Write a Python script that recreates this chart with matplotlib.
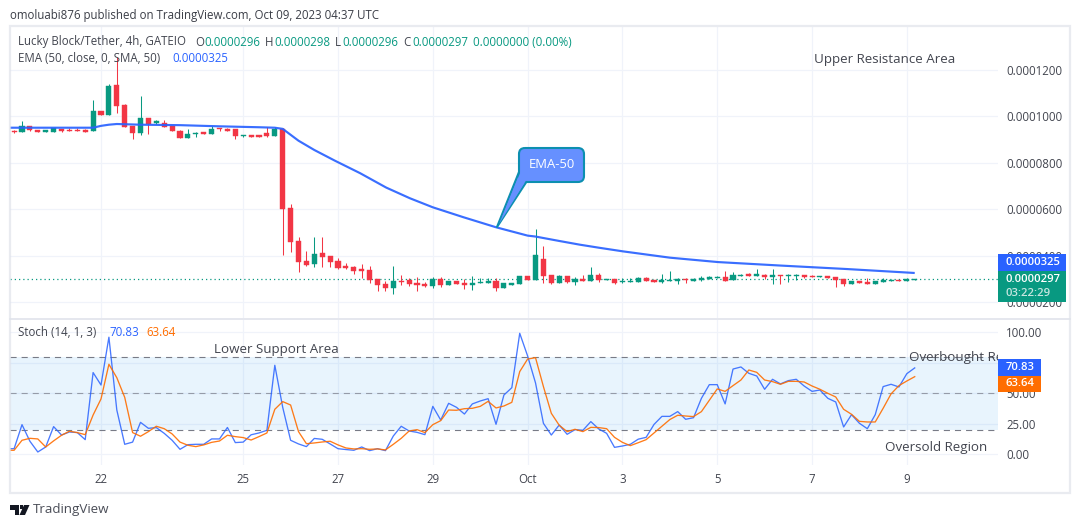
import matplotlib
matplotlib.use("Agg")
import matplotlib.pyplot as plt
from matplotlib.patches import Rectangle, Polygon, PathPatch
from matplotlib.path import Path

plt.rcParams["font.family"] = "Open Sans"

# ---------- data (prices in millionths of USDT) ----------
first_candle = -11
opens = [93.7,93.4,95.7,94.1,93.4,93.4,94.4,94.1,94.1,94.1,93.8,102.3,100.7,113.5,104.9,96,92.7,99.3,97.2,97.2,95.9,93.8,90.8,92.6,93.3,92.6,95,94.6,94.6,91.7,91.8,91.8,92.7,91.7,
94.6,60.4,46.1,37.7,36.5,41.1,39.8,37.7,35.7,35.1,34.2,33.8,29.9,27.8,26.2,29.1,29.5,28.2,27.8,26.9,29.8,27.3,28.9,28.2,27.3,28.3,28.2,28.9,26.2,27.3,27.9,31.2,29.5,38.5,31.6,28.2,31.2,28.6,
29.8,29.2,31.6,29.6,30,28.5,28.8,28.8,30.3,29.5,28.8,29.2,29,29.9,29.2,29.6,29.8,30.3,30.8,29.5,31.3,32.1,31.2,31.6,30.8,31.6,31.3,31.3,31.6,31.2,30.9,31.2,30.8,29.8,27.8,29,28.6,27.8,28.6,29,29.5,29,29.6]
highs = [94.1,98,95.8,94.2,94,94.9,94.5,95,95,94.4,107.1,102.3,114,125.7,105.2,96,108.8,99.3,98.3,98.4,96,94,94.7,93.3,93.4,95.9,95,95,94.6,91.9,91.8,91.8,95.6,95.6,
94.9,62.2,47.9,42,48,48,39.8,39,37,35.5,36.4,35.7,29.9,28.9,35.5,31.6,30.5,30.6,28.5,30.6,30.6,28.9,28.9,29.8,31.2,30.3,30.2,30.2,28,28.2,31.2,31.2,51.5,44.1,31.6,31.6,31.2,30.6,
31.6,35.1,32.6,30,30,30.5,30.5,30.8,30.8,29.5,32.1,33.4,30.3,30.3,30.5,31.2,31.2,31.2,33.4,32.9,32.1,32.5,34.2,32.1,34.2,31.6,32.1,32.1,31.6,31.6,31.2,31.2,30.8,29.8,29,29,30.3,29,30.3,29.6,29.5,30.3,29.8]
lows = [93,93.4,93.8,93.4,93.4,93.4,93.3,93.8,93.8,93.4,93.8,100.7,100.7,101.6,95.6,90.3,92,92.4,96.7,95.6,93.7,90.8,90.8,91.3,92.6,92.6,93.8,93.8,90.4,91.1,91.3,91.3,91.1,91.7,
40.3,41.7,32.9,35.5,35.2,35.1,35.2,34.2,34.2,32.1,30.5,28.2,24.7,24.6,23.4,27.2,26.9,24.7,26.6,25.9,26.6,27.3,27.9,25.6,25.2,28.3,28.2,24.7,26.2,27.3,27.9,29.5,29.5,28.3,27.8,28.2,28.2,27.3,
29.2,29.2,28.6,29.6,27.6,28,28.8,28.8,29.2,28.8,28,29.2,27.8,28.2,29.2,29.2,29.8,30.3,29,29.5,31.3,31.3,31.2,29.8,27.8,27.8,28.6,29.5,30.3,30.9,30.9,30.5,26.5,26.9,27.8,28.2,27.8,27.8,28.6,29,29,29,29.6]
closes = [93.4,95.9,94.3,93.4,94,94.9,93.7,93.8,93.8,93.4,102.3,100.7,113.1,104.5,95.6,92.8,99.3,96.7,97.9,95.6,93.7,90.8,92.4,92.8,92.6,94.4,94.4,93.8,91.7,91.8,91.3,91.3,91.6,94.6,
60.2,46,37.2,36,40.5,39.5,37.2,34.7,34.8,33.4,33.5,29.6,27.3,26,28.9,28.6,27.8,27.3,27.1,29.8,27.2,28.9,27.9,27.3,28.2,28.6,28.9,26.2,28,28.2,31.2,29.5,40.3,31.2,28.2,31.2,28.6,29.9,
29.2,31.6,29.5,30,28,29,29,30.3,29.2,28.8,29.5,29.5,29.8,29.6,29.9,30.3,30.8,30.6,29,31.6,31.6,31.3,32.1,30.8,31.6,31.3,31.6,31.6,30.8,30.9,31.2,30.5,29.5,27.8,29,28.2,27.8,29,29.5,29.6,29,29.9,29.7]
last_price = 29.7

ema_idx = [-12,-1,0,1,2,3,5,10,15,20,22,23,25,27,29.6,32.8,36.1,39.1,42,45.9,50,54,55,58,60.6,63,66.1,72,78.1,86,94.4,103]
ema_vals = [95.1,95.1,95.9,96.4,96.7,96.6,96.4,96.2,95.7,95.3,95.1,94.6,89.5,85.5,80.9,75.5,69.3,64.7,60.8,56.5,52.2,48.6,48.2,46.3,44.7,43.4,41.8,39.1,37.2,35.7,34.2,32.5]

first_stoch = -12
stoch_k = [4.6,4.6,24.3,10.7,1.9,6,22.7,15.8,18.3,17.8,12,67,56.8,96,36.3,8.2,10,26.2,21.3,21.9,17.2,11.5,4.1,7.9,8.2,8.2,12.6,12.6,22,9.6,10,16,17.5,19.7,73,38.5,11.5,8.5,6.3,13,12.3,8.5,4.6,3.9,
3.3,6,3,4.6,3,15,23,19.1,18,16.1,39.3,28.1,41.8,38.5,33,41.3,43.7,45.6,24.6,48.6,54.6,99.2,80.6,58.5,25.4,15.8,24,16.4,20.2,19.7,26.8,20.8,17.2,5.7,6.8,8.2,12.4,13.9,24.5,31.1,31.1,
35,28.7,30,45.9,57.1,57.1,41.3,69.9,71.6,66.4,64.2,53.3,61.5,57.7,60.4,61.5,56,51.6,52.7,45.9,42.9,22.4,32.5,25.4,21,32.5,55.5,57.4,55.2,66.1,70.83]
stoch_d = [3.3,3.3,11.5,13.1,12.6,6,11,15.6,18.9,17.8,16.1,32.2,45.4,73.8,62.8,46.7,17.8,14.8,18.6,23,21,16.7,10,7.4,6.3,7.7,9.8,10.9,15.6,14.5,13.7,11.7,14.5,17.5,36.9,43.2,40.4,18.6,8.7,9.3,10.1,10.7,7.7,5.2,
4.4,4.6,4.1,4.4,3.6,8.2,13.1,19.1,20.2,17.8,24.3,27.6,36.3,36.1,37.4,37.7,39.3,43.4,38,39.6,42.6,67.8,78.1,79.2,55.5,33.6,23.8,18.6,20.5,18.6,22.1,21.9,21,13.9,9.8,7.1,9.5,12,17.5,23,28.5,
32,31.4,30.9,35,44.3,53.6,51.6,56.3,60.9,69.1,67.2,60.9,59.6,57.4,59.8,59.8,59.3,56,53.3,50,47,36.9,32.8,27,26.5,26.5,37.7,49.5,56.3,60.1,63.64]

date_ticks = [0,18,30,42,54,66,78,90,102]
date_labels = ["22","25","27","29","Oct","3","5","7","9"]
price_ticks = [120,100,80,60,40,20]
price_labels = ["0.0001200","0.0001000","0.0000800","0.0000600","0.0000400","0.0000200"]
stoch_ticks = [100,75,50,25,0]
stoch_labels = ["100.00","75.00","50.00","25.00","0.00"]
bands = [80,50,20]

# ---------- style ----------
UP, DOWN = "#089981", "#f23645"
BLUE, ORANGE = "#2962ff", "#ff6d00"
GRID, FRAME = "#f0f3fa", "#e0e3eb"
TXT = "#42454f"
FS = 8.3
W, H = 1080, 528

fig = plt.figure(figsize=(W/100, H/100), dpi=100, facecolor="white")
def axbox(x0, y0, x1, y1):
    return [x0/W, 1-y1/H, (x1-x0)/W, (y1-y0)/H]
def px(x, y):
    return (x/W, 1-y/H)
def ftext(x, y, s, **kw):
    kw.setdefault("va", "center"); kw.setdefault("ha", "left")
    kw.setdefault("color", TXT); kw.setdefault("fontsize", FS)
    return fig.text(*px(x, y), s, **kw)

ax = fig.add_axes(axbox(10, 27, 998, 318))
ax2 = fig.add_axes(axbox(10, 320, 998, 465), sharex=ax)
ax.set_xlim(-11.52, 113.54)
ax.set_ylim(13.1, 138.5)
ax2.set_ylim(-8.77, 110.1)

for a in (ax, ax2):
    for s in a.spines.values():
        s.set_visible(False)
    a.set_axisbelow(True)
    a.grid(True, color=GRID, lw=0.85)
    a.yaxis.tick_right()
    a.set_xticks(date_ticks)
    a.tick_params(length=0, labelsize=FS, labelcolor=TXT, pad=5.8)
ax.tick_params(labelbottom=False)
ax.set_yticks(price_ticks, price_labels)
ax2.set_yticks(stoch_ticks, stoch_labels)
ax2.set_xticks(date_ticks, date_labels)
ax2.tick_params(axis="x", pad=6)

# candles
xs = [first_candle + i for i in range(len(opens))]
for x, o, h, l, c in zip(xs, opens, highs, lows, closes):
    col = UP if c >= o else DOWN
    ax.vlines(x, l, h, color=col, lw=0.75, zorder=3)
    ax.bar(x, abs(c-o), bottom=min(o, c), width=0.64, color=col, edgecolor=col, lw=0.3, zorder=3)
ax.axhline(last_price, color=UP, lw=0.9, ls=(0, (1, 2.4)), zorder=2)
ax.plot(ema_idx, ema_vals, color=BLUE, lw=1.55, zorder=4, solid_capstyle="butt", alpha=0.92)

# stochastic
sx = [first_stoch + i for i in range(len(stoch_k))]
ax2.axhspan(bands[2], bands[0], color="#2196f3", alpha=0.1, lw=0, zorder=1)
for b, al in zip(bands, (1.0, 0.7, 1.0)):
    ax2.axhline(b, color="#787b86", lw=0.8, ls=(0, (5.5, 4.5)), alpha=al, zorder=2)
ax2.plot(sx, stoch_k, color=BLUE, lw=0.95, alpha=0.85, zorder=3)
ax2.plot(sx, stoch_d, color=ORANGE, lw=0.95, alpha=0.9, zorder=4)

# frame
fig.add_artist(Rectangle(px(9.5, 493), 1060.5/W, 467/H, transform=fig.transFigure,
                         fill=False, ec=FRAME, lw=1.6, alpha=0.7))
fig.add_artist(plt.Line2D([10/W, 1070/W], [1-318.5/H]*2, color=FRAME, lw=1.2))

# header
ftext(10, 15, "omoluabi876 published on TradingView.com, Oct 09, 2023 04:37 UTC", color="#3a3d46")
ftext(18, 42, "Lucky Block/Tether, 4h, GATEIO")
for x, lab, val in [(195, "O", "0.0000296"), (265, "H", "0.0000298"), (335, "L", "0.0000296"), (403, "C", "0.0000297")]:
    ftext(x, 42, lab)
    ftext(x+(9 if lab != "L" else 7), 42, val, color=UP)
ftext(473, 42, "0.0000000 (0.00%)", color=UP)
ftext(18, 58, "EMA (50, close, 0, SMA, 50)")
ftext(172, 58, "0.0000325", color=BLUE)
ftext(18, 333, "Stoch (14, 1, 3)")
ftext(109, 333, "70.83", color=BLUE)
ftext(146, 333, "63.64", color=ORANGE)

# drawn notes
ftext(814, 59, "Upper Resistance Area", fontsize=9.6)
ftext(214, 350, "Lower Support Area", fontsize=9.6)
t = ftext(909, 358, "Overbought Region", fontsize=9.6)
t.set_clip_box(ax2.bbox); t.set_clip_on(True)
ftext(885, 447, "Oversold Region", fontsize=9.6)

# EMA-50 callout
CALL, CEDGE = "#6690ff", "#0c8fb0"
fig.add_artist(Polygon([px(519, 172), px(497, 227), px(527, 181)], closed=True, transform=fig.transFigure,
                       fc=CALL, ec=CEDGE, lw=1.5, joinstyle="round"))
def round_rect(x0, y0, x1, y1, r):
    k = [(x0+r,y0),(x1-r,y0),(x1,y0),(x1,y0+r),(x1,y1-r),(x1,y1),(x1-r,y1),(x0+r,y1),(x0,y1),(x0,y1-r),(x0,y0+r),(x0,y0),(x0+r,y0)]
    codes = [Path.MOVETO,Path.LINETO,Path.CURVE3,Path.CURVE3,Path.LINETO,Path.CURVE3,Path.CURVE3,Path.LINETO,Path.CURVE3,Path.CURVE3,Path.LINETO,Path.CURVE3,Path.CURVE3]
    return Path([px(*p) for p in k], codes)
fig.add_artist(PathPatch(round_rect(519, 148, 584, 182, 6), transform=fig.transFigure, fc=CALL, ec=CEDGE, lw=1.5))
fig.add_artist(Polygon([px(520.5, 172), px(499, 224), px(526, 180.5)], closed=True, transform=fig.transFigure, fc=CALL, ec="none"))
ftext(551.5, 165, "EMA-50", color="white", ha="center", fontsize=9.4)

# axis value tags
def tag(x0, y0, x1, y1, col):
    fig.add_artist(Rectangle(px(x0, y1), (x1-x0)/W, (y1-y0)/H, transform=fig.transFigure, fc=col, ec="none", zorder=5))
tag(998, 254, 1066, 271, BLUE)
tag(998, 271, 1066, 302, UP)
tag(998, 359, 1041, 376, BLUE)
tag(998, 376, 1041, 392, ORANGE)
kw = dict(color="white", zorder=6, fontweight="semibold", fontsize=8.1)
ftext(1006, 262.5, "0.0000325", **kw)
ftext(1006, 279.5, "0.0000297", **kw)
ftext(1006, 293.5, "03:22:29", color="#c6e6e0", zorder=6, fontweight="semibold", fontsize=8.1)
ftext(1006, 367.5, "70.83", **kw)
ftext(1006, 384, "63.64", **kw)

# brand
LOGO = "#131722"
fig.add_artist(Polygon([px(10,505),px(19,505),px(19,515),px(14.5,515),px(14.5,509.5),px(10,509.5)], transform=fig.transFigure, fc=LOGO, ec="none"))
fig.add_artist(Polygon([px(24,505),px(29.5,505),px(25,515),px(19.5,515)], transform=fig.transFigure, fc=LOGO, ec="none"))
fig.add_artist(Polygon([px(20,505),px(23,505),px(23,508.5),px(20,508.5)], transform=fig.transFigure, fc=LOGO, ec="none"))
ftext(33, 510, "TradingView", fontsize=9.6, color="#4a4d57")

fig.savefig("out.png", dpi=100, facecolor="white")
